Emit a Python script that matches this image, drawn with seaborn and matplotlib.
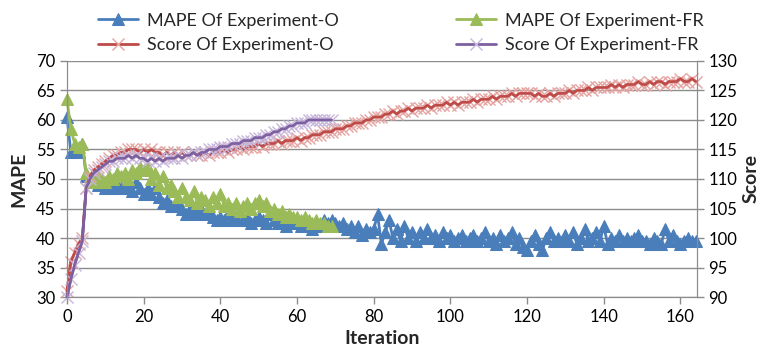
import matplotlib
matplotlib.use("Agg")
from matplotlib import pyplot as plt
import seaborn as sns

# valori letti a occhio dal grafico
mape_o = [60.5, 54.5, 55, 54.5, 56, 50.5, 50, 49.5, 49, 49,
          48.5, 49, 48.5, 49, 48.5, 48.5, 49, 48, 49.5, 48.5,
          47.5, 48.5, 47.5, 48.5, 47, 46, 46.5, 45.5, 45.5, 46,
          45, 44, 45, 44.5, 44, 45, 44, 44.5, 43.5, 43,
          43.5, 43, 44, 43, 43.5, 44.5, 43, 43.5, 42.5, 43,
          43.5, 43, 42.5, 44, 43, 42.5, 43, 42, 42.5, 43,
          42.5, 42, 42.5, 42, 41.5, 42.5, 42, 43, 42.5, 43,
          42.5, 42, 42.5, 41.5, 42, 41, 42, 40.5, 41.5, 41,
          41.5, 44, 39, 41, 43, 40, 41.5, 39.5, 42, 40,
          41, 39.5, 41, 40, 41.5, 40, 40.5, 39.5, 41, 40,
          40.5, 39.5, 40, 40.5, 39.5, 40, 40.5, 39.5, 40, 41,
          39.5, 40, 39, 40.5, 39.5, 40, 41, 39, 40, 38.5,
          38, 39.5, 40.5, 39, 38, 40, 41, 39.5, 40, 39.5,
          40.5, 39.5, 41, 39, 40, 41.5, 39.5, 40, 41, 39.5,
          42, 39, 40, 39.5, 40.5, 39.5, 40, 39.5, 40, 40.5,
          39.5, 39.5, 39, 40, 39.5, 39, 41.5, 39.5, 40.5, 39.5,
          39, 39.5, 40, 39.5, 39.5]

mape_fr = [63.5, 58.5, 56, 55.5, 56, 51, 50, 49.5, 50.5, 50,
           49.5, 50.5, 50, 51, 50.5, 51, 50, 51.5, 51, 52,
           51.5, 52, 50, 51, 49, 50.5, 48.5, 49, 48, 47,
           48.5, 47, 46.5, 48, 46, 47, 46.5, 45.5, 47, 46,
           47.5, 45.5, 46, 45, 46, 44.5, 45.5, 46, 45, 46,
           46.5, 45.5, 46, 44.5, 45, 44, 44.5, 43.5, 44, 43.5,
           43.5, 43, 43.5, 43, 42.5, 43, 42.5, 42.5, 42, 42]

score_o = [91, 96, 97.5, 99, 100, 108.5, 110.5, 111.5, 112, 112.5,
           113, 113.5, 114, 114, 114.5, 114.5, 115, 115, 115, 114.5,
           115, 114.5, 115, 114.5, 114.5, 114, 114.5, 114, 114.5, 114,
           114.5, 114, 114, 114.5, 114, 114, 114.5, 114, 114.5, 114.5,
           114.5, 115, 114.5, 115, 115, 115.5, 115, 115.5, 115.5, 115.5,
           116, 115.5, 116, 116, 116, 116.5, 116, 116.5, 116.5, 116.5,
           117, 116.5, 117, 117, 117.5, 117.5, 117.5, 118, 118, 118,
           118.5, 118.5, 118.5, 119, 119, 119.5, 119.5, 119.5, 120, 120,
           120.5, 120.5, 120.5, 121, 121, 121.5, 121, 121.5, 121.5, 122,
           121.5, 122, 122, 122, 122.5, 122, 122.5, 122.5, 122.5, 123,
           122.5, 123, 122.5, 123, 123, 123, 123.5, 123, 123.5, 123.5,
           123.5, 124, 123.5, 124, 124, 124, 124.5, 124, 124.5, 124.5,
           124.5, 124.5, 124, 124.5, 124, 124, 124.5, 124, 124.5, 124.5,
           124.5, 125, 124.5, 125, 125, 125, 125.5, 125, 125.5, 125.5,
           125.5, 125.5, 126, 125.5, 126, 125.5, 126, 126, 126, 126.5,
           126, 126, 126.5, 126, 126.5, 126.5, 126, 126.5, 126.5, 126.5,
           127, 126.5, 126.5, 127, 126.5]

score_fr = [90, 93, 95.5, 97.5, 99.5, 108.5, 110, 111, 111.5, 112,
            112.5, 113, 113, 113.5, 113.5, 113.5, 114, 113.5, 114, 113.5,
            113.5, 113, 113.5, 113, 113.5, 113, 113.5, 113.5, 113.5, 114,
            113.5, 114, 114, 114.5, 114, 114.5, 114.5, 115, 115, 115,
            115.5, 115.5, 115.5, 116, 116, 116, 116.5, 116.5, 116.5, 117,
            117, 117, 117.5, 117.5, 118, 118, 118.5, 118.5, 119, 119,
            119.5, 119.5, 119.5, 120, 120, 120, 120, 120, 120, 120]

x_ticks = [0, 20, 40, 60, 80, 100, 120, 140, 160]

sns.set_style("white")
plt.rcParams['font.family'] = ['Lato', 'DejaVu Sans']

fig = plt.figure(figsize=(7.64, 3.52), dpi=100)
ax = fig.add_axes([0.0877, 0.156, 0.824, 0.671])
ax2 = ax.twinx()

blu, verde = '#4A7EBB', '#9BBB59'
rosso, viola = '#BE4B48', '#7D60A0'

sns.lineplot(x=list(range(len(mape_o))), y=mape_o, ax=ax, color=blu, lw=2,
             marker='^', markersize=8, markeredgecolor=blu, clip_on=False,
             label='MAPE Of Experiment-O', legend=False)
sns.lineplot(x=list(range(len(mape_fr))), y=mape_fr, ax=ax, color=verde, lw=2,
             marker='^', markersize=8, markeredgecolor=verde, clip_on=False,
             label='MAPE Of Experiment-FR', legend=False)

# punteggi: prima i marker chiari, poi la linea scura sopra
serie_score = [(score_o, rosso, '#E3A4A2', 'Score Of Experiment-O'),
               (score_fr, viola, '#C7B6DB', 'Score Of Experiment-FR')]
for valori, col, col_marker, nome in serie_score:
    xs = list(range(len(valori)))
    sns.lineplot(x=xs, y=valori, ax=ax2, color=col, lw=2, marker='x', markersize=8,
                 markeredgecolor=col_marker, markeredgewidth=1, clip_on=False,
                 label=nome, legend=False)
    sns.lineplot(x=xs, y=valori, ax=ax2, color=col, lw=1.8, clip_on=False, legend=False)

ax.set_xlim(0, 164.2)
ax.set_ylim(30, 70)
ax2.set_ylim(90, 130)
ax.set_xticks(x_ticks)
ax.set_yticks(range(30, 71, 5))
ax2.set_yticks(range(90, 131, 5))

ax.grid(axis='y', color='#8C8C8C', lw=1)
ax.grid(axis='x', visible=False)
for a in (ax, ax2):
    for s in a.spines.values():
        s.set_color('#8C8C8C')
    a.spines['top'].set_visible(False)
    a.tick_params(labelsize=12, colors='#8C8C8C', labelcolor='black', length=5, width=1)
ax.tick_params(axis='x', direction='out', bottom=True)
ax.tick_params(axis='y', direction='out', left=True)
ax2.tick_params(axis='y', direction='out', right=True)

ax.set_xlabel('Iteration', fontsize=14, fontweight='bold', labelpad=4)
ax.set_ylabel('MAPE', fontsize=14, fontweight='bold', labelpad=6)
ax2.set_ylabel('Score', fontsize=14, fontweight='bold', labelpad=4)

h1, l1 = ax.get_legend_handles_labels()
h2, l2 = ax2.get_legend_handles_labels()
fig.legend([h1[0], h2[0], h1[1], h2[1]], [l1[0], l2[0], l1[1], l2[1]],
           ncol=2, loc='upper center', bbox_to_anchor=(0.525, 1.01), frameon=False,
           fontsize=13, handlelength=2.2, handletextpad=0.5, columnspacing=6.5,
           labelspacing=0.45)

fig.savefig('out.png', dpi=100)
